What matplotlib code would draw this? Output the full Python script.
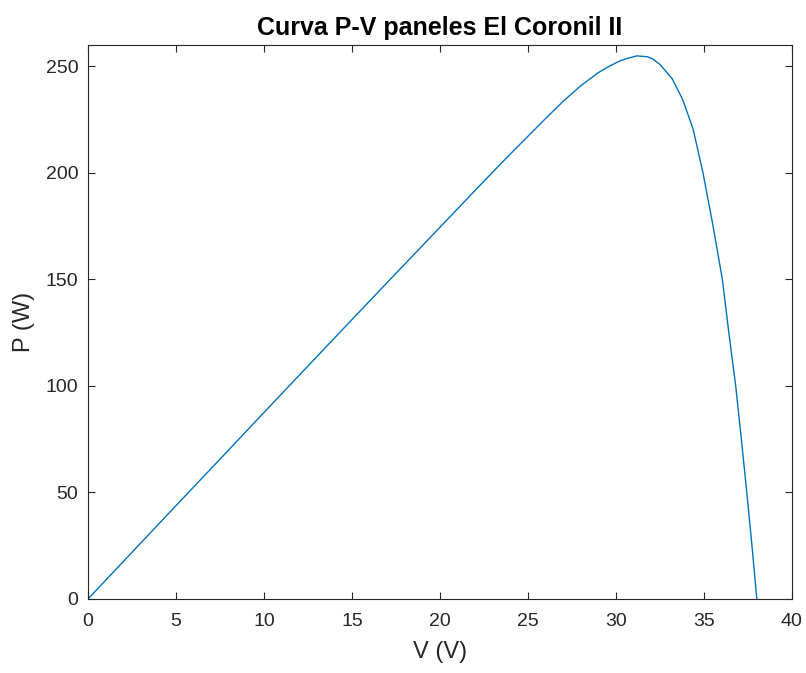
import matplotlib.pyplot as plt

# Voltage (V) and power (W)
voltage = [0, 2.5, 5, 7.5, 10, 12.5, 15, 17.5, 20, 22.3, 23, 24, 25, 26, 27,
           28, 29, 29.6, 30.2, 30.6, 31.2, 31.8, 32.1, 32.5, 33.2, 33.8, 34.4,
           34.96, 35.5, 36.06, 36.45, 36.82, 37.14, 37.45, 37.75, 38.02]
power = [0, 21.9, 43.8, 65.6, 87.5, 109.3, 131.1, 152.8, 174.4, 194.3, 200.3,
         208.8, 217.1, 225.4, 233.5, 240.8, 247.0, 249.9, 252.4, 253.6, 254.9,
         254.5, 253.5, 251.0, 244.3, 234.5, 220.5, 200.0, 176.5, 150.0, 123.5,
         100.0, 75.0, 50.0, 24.5, 0]

x_ticks = [0, 5, 10, 15, 20, 25, 30, 35, 40]
y_ticks = [0, 50, 100, 150, 200, 250]

plt.rcParams['font.family'] = ['Liberation Sans', 'DejaVu Sans']
text_col = '#262626'

fig = plt.figure(figsize=(8.06, 6.73), dpi=100)
ax = fig.add_axes([0.1092, 0.110, 0.873, 0.8231])

ax.plot(voltage, power, color='#0072BD', linewidth=1.0)

ax.set_xlim(0, 40)
ax.set_ylim(0, 260)
ax.set_xticks(x_ticks)
ax.set_yticks(y_ticks)
ax.tick_params(direction='in', length=5, width=0.8, top=True, right=True,
               labelsize=14, colors=text_col)
ax.tick_params(axis='x', pad=10)
ax.tick_params(axis='y', pad=7)
for s in ax.spines.values():
    s.set_color(text_col)
    s.set_linewidth(0.8)

ax.set_title('Curva P-V paneles El Coronil II', fontsize=18, fontweight='bold',
             color='black', pad=7)
ax.set_xlabel('V (V)', fontsize=17, color=text_col, labelpad=8)
ax.set_ylabel('P (W)', fontsize=17, color=text_col, labelpad=8)

fig.savefig('out.png', dpi=100)
